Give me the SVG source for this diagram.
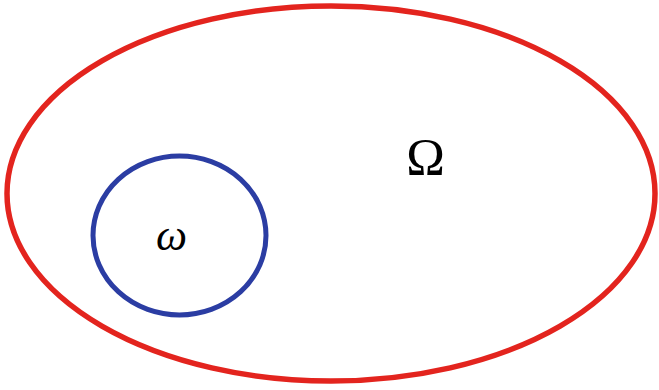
<svg xmlns="http://www.w3.org/2000/svg" width="659" height="390" viewBox="0 0 659 390">
<style>
.lbl{font-family:"Liberation Serif","DejaVu Serif",serif;fill:#000;text-anchor:middle}
</style>
<rect width="659" height="390" fill="#fff"/>
<g id="Omega">
<ellipse cx="331" cy="193.5" rx="324" ry="187.5" fill="none" stroke="#e3241e" stroke-width="5.5"/>
<text class="lbl" x="425.5" y="175" font-size="52">Ω</text>
</g>
<g id="omega">
<ellipse cx="179.5" cy="235.5" rx="86.5" ry="79.5" fill="none" stroke="#2b3da3" stroke-width="5"/>
<text class="lbl" x="171.5" y="250" font-size="44" font-style="italic">ω</text>
</g>
<g id="connectors"/>
</svg>
